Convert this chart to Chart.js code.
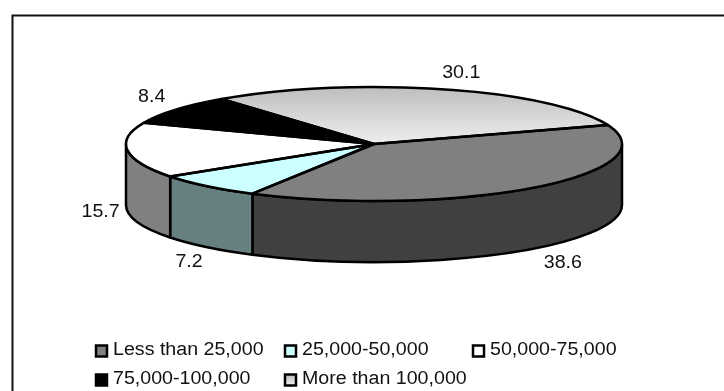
<!DOCTYPE html>
<html>
<head>
<meta charset="utf-8">
<style>
  html, body { margin: 0; padding: 0; background: #fff; }
  canvas { display: block; }
</style>
<script src="https://cdn.jsdelivr.net/npm/chart.js@4/dist/chart.umd.min.js"></script>
</head>
<body>
<canvas id="incomeChart" width="724" height="391"></canvas>
<script>
const categories = ['Less than 25,000', '25,000-50,000', '50,000-75,000', '75,000-100,000', 'More than 100,000'];
const values = [38.6, 7.2, 15.7, 8.4, 30.1];
const topColors = ['#808080', '#CCFFFF', '#FFFFFF', '#000000', null];
const sideColors = ['#404040', '#668080', '#808080', '#000000', '#666666'];

// label position relative to the slice's rim point
const labelOffsets = [[29, 75], [-18, 76], [-27, 62], [-24, -13], [18, -16]];

// squashed disc
const RX = 248;
const RY = 57;
const DEPTH = 61;
const LINE = 2.5;
const FONT = '18px "Liberation Sans", Arial, sans-serif';
const TEXT_STRETCH = 1.09;

const TWO_PI = Math.PI * 2;

function squash(ctx, el) {
    ctx.translate(el.x, el.y);
    ctx.scale(RX / el.outerRadius, RY / el.outerRadius);
    ctx.translate(-el.x, -el.y);
}

function topGradient(ctx, y0, y1) {
    const g = ctx.createLinearGradient(0, y0, 0, y1);
    g.addColorStop(0, '#BEBEBE');
    g.addColorStop(1, '#EEEEEE');
    return g;
}

// text is a bit wider than the plain font
function wideText(ctx, text, x, y) {
    ctx.save();
    ctx.translate(x, y);
    ctx.scale(TEXT_STRETCH, 1);
    ctx.fillText(text, 0, 0);
    ctx.restore();
}

const frame = {
    id: 'frame',
    beforeDraw(chart) {
        const ctx = chart.ctx;
        ctx.save();
        ctx.strokeStyle = '#111';
        ctx.lineWidth = 2;
        ctx.beginPath();
        ctx.moveTo(12.5, 391);
        ctx.lineTo(12.5, 15.5);
        ctx.lineTo(724, 15.5);
        ctx.stroke();
        ctx.restore();
    }
};

const disc3d = {
    id: 'disc3d',
    beforeDatasetsDraw(chart) {
        const ctx = chart.ctx;
        const arcs = chart.getDatasetMeta(0).data;
        ctx.save();
        ctx.lineWidth = LINE;
        ctx.strokeStyle = '#000';
        ctx.lineJoin = 'round';
        // the wall only shows on the front half of the rim
        arcs.forEach((el, i) => {
            let a = (el.startAngle % TWO_PI + TWO_PI) % TWO_PI;
            let b = a + (el.endAngle - el.startAngle);
            [[a, b], [a - TWO_PI, b - TWO_PI]].forEach(([s, e]) => {
                const from = Math.max(s, 0);
                const to = Math.min(e, Math.PI);
                if (to <= from) return;
                ctx.beginPath();
                ctx.ellipse(el.x, el.y, RX, RY, 0, from, to);
                ctx.lineTo(el.x + RX * Math.cos(to), el.y + RY * Math.sin(to) + DEPTH);
                ctx.ellipse(el.x, el.y + DEPTH, RX, RY, 0, to, from, true);
                ctx.closePath();
                ctx.fillStyle = sideColors[i];
                ctx.fill();
                ctx.stroke();
            });
        });
        ctx.restore();
        // slices get drawn by the library inside this transform
        ctx.save();
        squash(ctx, arcs[0]);
    },
    afterDatasetsDraw(chart) {
        const ctx = chart.ctx;
        ctx.restore();
        const arcs = chart.getDatasetMeta(0).data;
        ctx.save();
        ctx.lineWidth = LINE;
        ctx.strokeStyle = '#000';
        ctx.lineJoin = 'round';
        arcs.forEach(el => {
            ctx.beginPath();
            ctx.moveTo(el.x, el.y);
            ctx.ellipse(el.x, el.y, RX, RY, 0, el.startAngle, el.endAngle);
            ctx.closePath();
            ctx.stroke();
        });
        // value labels
        ctx.font = FONT;
        ctx.fillStyle = '#111';
        ctx.textAlign = 'center';
        ctx.textBaseline = 'middle';
        arcs.forEach((el, i) => {
            const mid = (el.startAngle + el.endAngle) / 2;
            const x = el.x + RX * Math.cos(mid) + labelOffsets[i][0];
            const y = el.y + RY * Math.sin(mid) + labelOffsets[i][1];
            wideText(ctx, String(values[i]), x, y);
        });
        ctx.restore();
    }
};

const gridLegend = {
    id: 'gridLegend',
    afterDraw(chart) {
        const ctx = chart.ctx;
        const columns = [96, 285, 473];
        const rows = [351, 380];
        ctx.save();
        ctx.font = FONT;
        ctx.textBaseline = 'middle';
        categories.forEach((name, i) => {
            const x = columns[i % 3];
            const y = rows[Math.floor(i / 3)];
            ctx.fillStyle = topColors[i] || topGradient(ctx, y - 5, y + 5);
            ctx.strokeStyle = '#000';
            ctx.lineWidth = 2.5;
            ctx.fillRect(x, y - 5.5, 11, 11);
            ctx.strokeRect(x, y - 5.5, 11, 11);
            ctx.fillStyle = '#111';
            wideText(ctx, name, x + 17, y - 0.5);
        });
        ctx.restore();
    }
};

new Chart(document.getElementById('incomeChart'), {
    type: 'pie',
    data: {
        labels: categories,
        datasets: [{
            data: values,
            borderWidth: 0,
            clip: false,
            backgroundColor(context) {
                const color = topColors[context.dataIndex];
                if (color) return color;
                const area = context.chart.chartArea;
                if (!area) return '#D6D6D6';
                return topGradient(context.chart.ctx, area.top, (area.top + area.bottom) / 2);
            }
        }]
    },
    options: {
        responsive: false,
        animation: false,
        rotation: 70.4,
        layout: { padding: { left: 244, right: 220, top: 14, bottom: 117 } },
        plugins: { legend: { display: false }, tooltip: { enabled: false } }
    },
    plugins: [frame, disc3d, gridLegend]
});
</script>
</body>
</html>
